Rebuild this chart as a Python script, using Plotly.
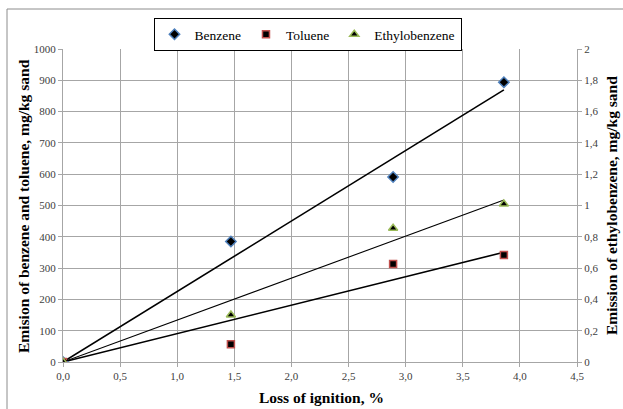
import numpy as np
import plotly.graph_objects as go

# Data
loss_ignition = [0.0, 1.47, 2.89, 3.86]
benzene = [0, 385, 591, 894]
toluene = [0, 57, 313, 342]
ethylobenzene = [0, 0.30, 0.855, 1.01]

x_ticks = [0, 0.5, 1.0, 1.5, 2.0, 2.5, 3.0, 3.5, 4.0, 4.5]

x_title = "Loss of ignition, %"
y_title = "Emision of benzene and toluene, mg/kg sand"
y2_title = "Emission of ethylobenzene, mg/kg sand"

FONT = "Liberation Serif"
GRID = "#A6A6A6"
TICKFONT = dict(family=FONT, size=11, color="#404040")
TITLEFONT = dict(family=FONT, size=15.5, color="black", weight="bold")

W, H = 623, 409
L, R, T, B = 63, 46, 49, 47
pw, ph = W - L - R, H - T - B


def px_x(p):
    return (p - L) / pw


def px_y(p):
    return (H - B - p) / ph


def origin_fit(xs, ys):
    xs = np.asarray(xs, float)
    ys = np.asarray(ys, float)
    k = (xs * ys).sum() / (xs * xs).sum()
    xr = np.array([0.0, xs.max()])
    return xr, k * xr


fig = go.Figure()

# Trendlines (linear, through origin)
for ys, axis, w in [(benzene, "y", 1.6), (toluene, "y", 1.6), (ethylobenzene, "y2", 1.1)]:
    xr, yr = origin_fit(loss_ignition, ys)
    fig.add_trace(go.Scatter(x=xr, y=yr, mode="lines", yaxis=axis,
                             line=dict(color="black", width=w),
                             showlegend=False, hoverinfo="skip"))

fig.add_trace(go.Scatter(x=loss_ignition, y=benzene, mode="markers", name="Benzene",
                         marker=dict(symbol="diamond", size=8, color="black",
                                     line=dict(color="#4F81BD", width=1.5))))
fig.add_trace(go.Scatter(x=loss_ignition, y=toluene, mode="markers", name="Toluene",
                         marker=dict(symbol="square", size=7, color="black",
                                     line=dict(color="#C0504D", width=1.5))))
fig.add_trace(go.Scatter(x=loss_ignition, y=ethylobenzene, mode="markers", name="Ethylobenzene",
                         yaxis="y2",
                         marker=dict(symbol="triangle-up", size=8, color="black",
                                     line=dict(color="#9BBB59", width=1.5))))

axis_common = dict(showline=True, linecolor=GRID, linewidth=1,
                   ticks="outside", ticklen=4, tickcolor=GRID,
                   tickfont=TICKFONT, zeroline=False, automargin=False)

fig.update_layout(
    width=W, height=H,
    margin=dict(l=L, r=R, t=T, b=B, autoexpand=False),
    paper_bgcolor="white", plot_bgcolor="white",
    separators=", ",
    font=dict(family=FONT, color="black"),
    xaxis=dict(range=[0, 4.5], tickvals=x_ticks, tickformat=".1f",
               showgrid=True, gridcolor=GRID, gridwidth=1, **axis_common),
    yaxis=dict(range=[0, 1000], dtick=100,
               showgrid=True, gridcolor=GRID, gridwidth=1, **axis_common),
    yaxis2=dict(range=[0, 2], dtick=0.2, overlaying="y", side="right",
                showgrid=False, **axis_common),
    legend=dict(orientation="h", x=px_x(307.5), y=px_y(34.5), xanchor="center", yanchor="middle",
                bordercolor="black", borderwidth=1, bgcolor="white",
                font=dict(family=FONT, size=13.5, color="black"),
                itemwidth=30, tracegroupgap=0),
    annotations=[
        dict(text=x_title, xref="paper", yref="paper", x=px_x(321), y=px_y(397),
             xanchor="center", yanchor="middle", showarrow=False, font=TITLEFONT),
        dict(text=y_title, xref="paper", yref="paper", x=px_x(23), y=px_y(206),
             xanchor="center", yanchor="middle", showarrow=False, textangle=-90, font=TITLEFONT),
        dict(text=y2_title, xref="paper", yref="paper", x=px_x(611), y=px_y(206),
             xanchor="center", yanchor="middle", showarrow=False, textangle=-90, font=TITLEFONT),
    ],
    shapes=[dict(type="rect", xref="paper", yref="paper",
                 x0=px_x(7), x1=px_x(640), y0=px_y(9), y1=px_y(430),
                 line=dict(color="#8C8C8C", width=1), layer="below")],
)

fig.write_html("out.html")
